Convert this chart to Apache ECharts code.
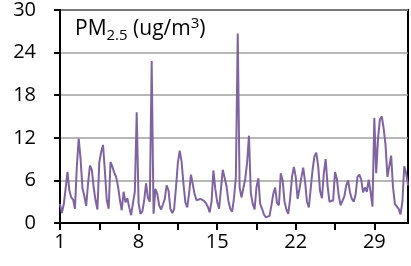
<!DOCTYPE html>
<html>
<head>
<meta charset="utf-8">
<script src="https://cdn.jsdelivr.net/npm/echarts@6/dist/echarts.min.js"></script>
<style>
html,body{margin:0;padding:0;background:#fff;}
#c{width:411px;height:266px;}
</style>
</head>
<body>
<div id="c"></div>
<script>
// PM2.5 readings every 4 hours (6 per day), day index 0 = day 1
const pm25 = [
2.7,1.4,2.6,4.8,7.2,4.6,3.6,3.3,2.0,8.0,11.9,9.0,4.9,3.8,2.4,5.6,8.1,7.5,5.0,3.2,
1.9,8.5,10.0,11.0,7.3,3.2,2.0,8.6,7.9,7.1,6.5,5.2,3.3,1.8,4.4,2.9,3.5,2.2,1.1,2.8,
4.4,15.6,2.8,1.3,1.6,3.2,5.6,3.5,3.0,22.8,1.3,4.8,4.1,2.5,1.9,2.6,3.4,5.3,4.6,2.0,
1.4,2.0,5.0,8.5,10.2,8.6,5.5,2.9,2.2,4.2,6.8,6.6,4.0,3.2,3.3,3.4,3.2,3.1,2.8,2.3,
1.5,3.0,7.4,4.8,3.0,2.0,1.8,7.5,7.3,5.2,3.1,2.0,1.6,3.5,6.5,26.7,5.0,3.6,3.6,6.2,
8.5,12.3,4.2,2.7,1.9,5.0,6.3,2.7,2.0,1.2,0.8,0.7,1.0,2.5,4.1,5.0,2.8,2.5,7.0,6.0,
3.0,1.9,1.3,3.4,6.5,7.9,6.5,3.4,4.8,6.4,7.8,5.8,3.0,2.2,2.3,7.5,9.4,9.9,8.0,4.5,
3.5,7.0,9.0,5.3,3.0,2.9,3.2,7.2,6.2,3.8,2.5,2.5,3.8,5.3,6.0,4.3,3.4,3.0,4.0,6.5,
6.8,6.1,4.3,5.0,4.4,6.1,4.4,2.3,14.8,7.0,12.0,14.6,15.0,13.3,11.0,6.5,6.5,9.5,5.0,2.7,
2.5,2.0,1.2,3.0,8.0,7.0,5.3
];
const samplesPerDay = 6;
const yTicks = [0, 6, 12, 18, 24, 30];
const xLabelDays = [1, 8, 15, 22, 29];

const seriesData = pm25.map((v, i) => [i / samplesPerDay, v]);

const chart = echarts.init(document.getElementById('c'));
const font = 'Open Sans';
chart.setOption({
  animation: false,
  backgroundColor: '#fff',
  title: {
    text: '{a|PM}{sub|2.5}{a| (ug/m}{sup|3}{a|)}',
    left: 75, top: 16, padding: 0,
    textStyle: {
      fontWeight: 'normal',
      rich: {
        a: {fontFamily: font, fontSize: 21, fontWeight: 'normal', lineHeight: 27, color: '#000', verticalAlign: 'middle'},
        sub: {fontFamily: font, fontSize: 15, fontWeight: 'normal', lineHeight: 17, color: '#000', verticalAlign: 'bottom'},
        sup: {fontFamily: font, fontSize: 15, fontWeight: 'normal', lineHeight: 17, color: '#000', verticalAlign: 'top'}
      }
    }
  },
  grid: {left: 60, right: 3, top: 9.5, bottom: 43, show: true, borderColor: '#000', borderWidth: 2},
  xAxis: {
    type: 'value', min: 0, max: 31, interval: 3.5,
    axisLine: {show: true, lineStyle: {color: '#000', width: 2}},
    axisTick: {show: true, length: 7, lineStyle: {color: '#000', width: 2}},
    splitLine: {show: false},
    axisLabel: {
      fontFamily: font, fontSize: 20, color: '#000', margin: 9,
      showMaxLabel: false,
      formatter: v => (xLabelDays.indexOf(v + 1) >= 0 ? String(v + 1) : '')
    }
  },
  yAxis: {
    type: 'value', min: yTicks[0], max: yTicks[yTicks.length - 1], interval: 6,
    axisLine: {show: true, lineStyle: {color: '#000', width: 2}},
    axisTick: {show: true, length: 6, lineStyle: {color: '#000', width: 2}},
    splitLine: {show: true, lineStyle: {color: '#a0a0a0', width: 1.5}},
    axisLabel: {fontFamily: font, fontSize: 20, color: '#000', margin: 24}
  },
  series: [{
    type: 'line', data: seriesData, showSymbol: false,
    lineStyle: {color: '#8064a2', width: 2}, z: 3
  }]
});
</script>
</body>
</html>
